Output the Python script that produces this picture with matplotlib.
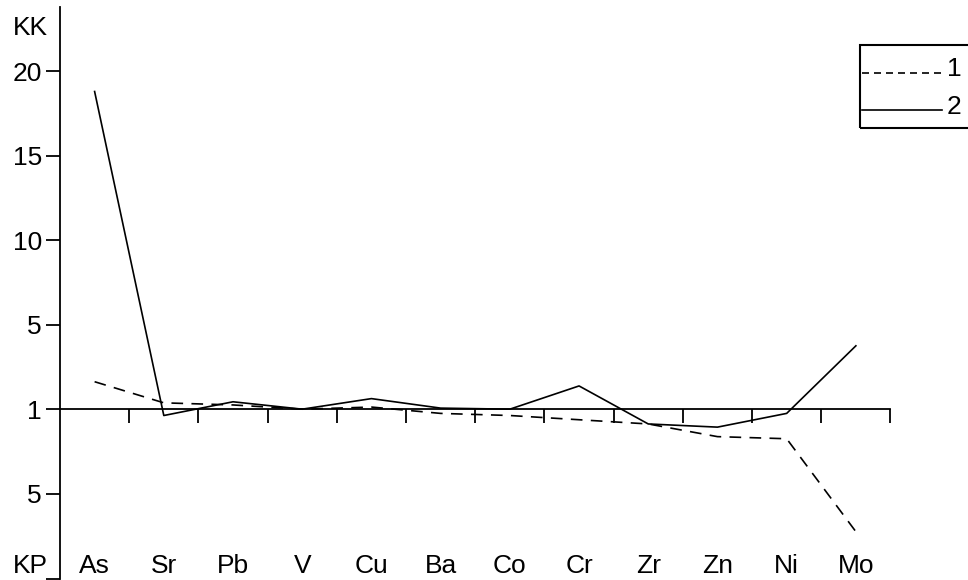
import numpy as np
import matplotlib
matplotlib.use('Agg')
import matplotlib.pyplot as plt
from matplotlib.lines import Line2D
from matplotlib.patches import Rectangle

plt.rcParams['font.family'] = ['Liberation Sans', 'DejaVu Sans']

# elements along the x axis
elements = ['As', 'Sr', 'Pb', 'V', 'Cu', 'Ba', 'Co', 'Cr', 'Zr', 'Zn', 'Ni', 'Mo']
# positive = KK (concentration coeff.), negative = KP (dispersion coeff.)
series_1 = [2.3, 1.3, 1.2, 1.0, 1.1, -1.2, -1.3, -1.5, -1.7, -2.3, -2.4, -6.8]
series_2 = [18.8, -1.3, 1.35, 1.0, 1.5, 1.05, 1.0, 2.1, -1.7, -1.85, -1.2, 4.0]
labels = ['1', '2']

tick_pos = [-1, 0, 1, 2, 3, 4]
tick_txt = ['5', '1', '5', '10', '15', '20']


def to_axis(v):
    # chart scale: 1..5 and 5..20 share one step per tick, KP mirrored below 1
    v = np.asarray(v, dtype=float)
    out = np.where(v >= 5, v / 5, (np.abs(v) - 1) / 4)
    return np.where(v < 0, -out, out)


W, H = 968, 580
FS = 19
DASH = (0, (7, 5))
fig = plt.figure(figsize=(W / 100, H / 100), dpi=100)
ax = fig.add_axes([60 / W, 1 - 579 / H, (W - 60) / W, (579 - 7) / H])

x = np.arange(len(elements))
ax.plot(x, to_axis(series_1), color='black', lw=1.2, ls=DASH)
ax.plot(x, to_axis(series_2), color='black', lw=1.2, ls='-')

ax.set_xlim(-0.5, 12.62)
ax.set_ylim(-2.01, 4.76)

for s in ['top', 'right']:
    ax.spines[s].set_visible(False)
ax.spines['left'].set_linewidth(1.3)
ax.spines['bottom'].set_position(('data', 0))
ax.spines['bottom'].set_bounds(-0.5, len(elements) - 0.5)
ax.spines['bottom'].set_linewidth(1.3)

ax.set_xticks(x + 0.5)
ax.set_xticklabels([])
ax.tick_params(axis='x', direction='out', length=10, width=1.3)

ax.set_yticks(tick_pos + [-2.01])
ax.set_yticklabels(tick_txt + [''])
ax.tick_params(axis='y', direction='out', length=10, width=1.3, pad=3, labelsize=FS)

for i, el in enumerate(elements):
    ax.text(i, 0.011, el, transform=ax.get_xaxis_transform(), ha='center',
            va='baseline', fontsize=FS)

ax.text(-47 / 908, 0.963, 'KK', transform=ax.transAxes, ha='left',
        va='center', fontsize=FS)
ax.text(-47 / 908, 0.011, 'KP', transform=ax.transAxes, ha='left', va='baseline',
        fontsize=FS)

# legend box, drawn by hand (it runs past the right edge in the original)
def fx(px):
    return px / W


def fy(py):
    return 1 - py / H


fig.add_artist(Rectangle((fx(860), fy(128)), fx(1000) - fx(860), fy(45) - fy(128),
                         transform=fig.transFigure, fill=False, lw=1.5,
                         edgecolor='black'))
for lab, ls, yl, yt in zip(labels, [(0, (4.2, 3)), '-'], [73, 110], [69, 107]):
    fig.add_artist(Line2D([fx(862), fx(942)], [fy(yl), fy(yl)],
                          transform=fig.transFigure, color='black', lw=1.2, ls=ls))
    fig.text(fx(947), fy(yt), lab, ha='left', va='center', fontsize=FS)

fig.savefig('out.png', dpi=100, facecolor='white')
